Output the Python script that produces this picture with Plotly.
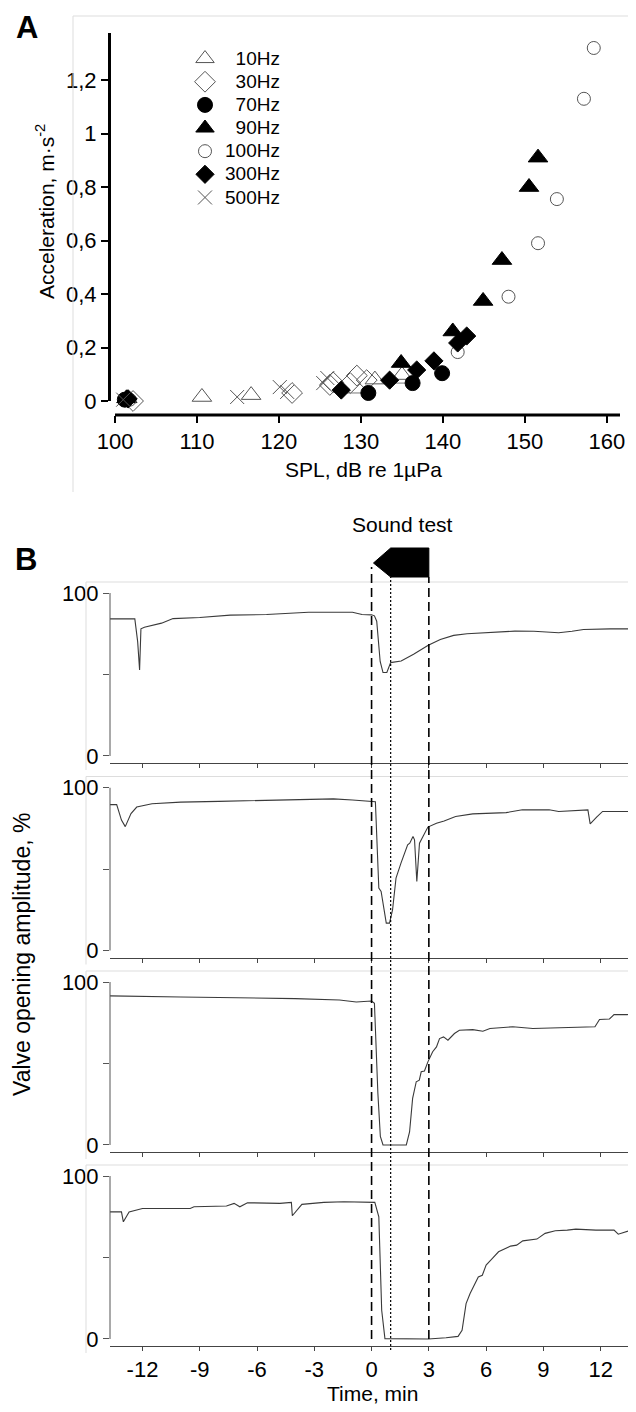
import plotly.graph_objects as go

W, H = 636, 1412
FONT = "Liberation Sans, Arial, sans-serif"
PAGE_OFFSET = 8  # default body margin of the html page

# ---------------- Panel A data ----------------
hz10_x = [101.5, 110.6, 116.6, 131.7, 135.0]
hz10_y = [0.010, 0.015, 0.022, 0.080, 0.097]
hz30_x = [102.2, 121.6, 126.2, 126.6, 128.7, 129.5, 130.7]
hz30_y = [0.000, 0.030, 0.060, 0.070, 0.067, 0.095, 0.078]
hz70_x = [101.2, 130.9, 136.3, 139.9]
hz70_y = [0.005, 0.030, 0.067, 0.104]
hz70_err = [0.0, 2.6, 3.8, 0.0]
hz90_x = [101.4, 134.9, 141.2, 144.9, 147.2, 150.5, 151.6]
hz90_y = [0.010, 0.142, 0.260, 0.374, 0.527, 0.800, 0.910]
hz100_x = [101.8, 141.8, 148.0, 151.6, 153.9, 157.2, 158.4]
hz100_y = [0.005, 0.183, 0.390, 0.590, 0.755, 1.130, 1.320]
hz300_x = [101.6, 127.6, 133.5, 136.8, 138.9, 141.8, 142.9]
hz300_y = [0.008, 0.041, 0.078, 0.116, 0.150, 0.217, 0.243]
hz500_x = [101.0, 114.9, 120.1, 121.0, 125.4, 125.9]
hz500_y = [0.005, 0.015, 0.052, 0.034, 0.067, 0.086]

a_xticks = [100, 110, 120, 130, 140, 150, 160]
a_yticks = [0, 0.2, 0.4, 0.6, 0.8, 1.0, 1.2]
a_yticktext = ["0", "0,2", "0,4", "0,6", "0,8", "1", "1,2"]

# ---------------- Panel B data ----------------
t1 = [-13.7, -12.4, -12.25, -12.15, -12.08, -11.9, -11.0, -10.4, -9.0, -7.4, -5.5, -3.3, -1.0, -0.5, 0.0,
      0.15, 0.27, 0.45, 0.6, 0.8, 1.0, 1.55, 2.2, 2.97, 3.6, 4.3, 5.0, 6.0, 7.5, 8.5, 9.8, 10.5, 11.1, 12.5, 13.85]
v1 = [84.1, 84.1, 70.0, 52.8, 78.0, 79.0, 81.5, 84.3, 85.0, 86.4, 86.8, 88.2, 88.2, 86.8, 86.6,
      86.0, 82.7, 58.0, 51.2, 51.2, 57.3, 58.3, 62.4, 67.9, 71.5, 74.0, 75.0, 75.6, 76.6, 76.5, 75.6, 76.5, 77.6, 78.0, 78.0]

t2 = [-13.7, -13.35, -13.1, -12.9, -12.6, -12.3, -11.5, -10.0, -8.0, -6.0, -4.0, -2.0, -1.0, 0.0, 0.2, 0.38, 0.5,
      0.77, 0.94, 1.1, 1.28, 1.54, 1.89, 2.0, 2.17, 2.25, 2.37, 2.51, 2.77, 2.95, 3.4, 3.8, 4.4, 5.3, 7.05, 7.9,
      9.3, 9.8, 11.33, 11.45, 11.8, 12.1, 13.7, 13.85]
v2 = [89.5, 89.5, 80.0, 76.0, 84.0, 88.0, 90.0, 91.0, 91.5, 92.0, 92.5, 93.0, 92.3, 91.7, 91.3, 38.3, 36.2,
      16.8, 16.8, 25.0, 44.4, 53.6, 64.8, 65.8, 69.9, 67.9, 42.3, 65.8, 72.0, 75.7, 78.1, 79.5, 82.2, 83.8, 84.6, 86.3,
      86.3, 85.3, 86.3, 77.7, 82.0, 85.3, 85.3, 79.2]

t3 = [-13.7, -12.0, -10.0, -8.0, -6.0, -4.0, -1.68, -0.8, 0.0, 0.15, 0.33, 0.46, 0.6, 1.82, 1.99, 2.15, 2.34,
      2.5, 2.6, 2.77, 2.95, 3.2, 3.4, 3.56, 3.77, 4.0, 4.34, 4.6, 5.3, 5.83, 6.2, 7.4, 8.45, 10.5, 11.7, 11.94,
      12.46, 12.7, 13.4, 13.85]
v3 = [91.5, 91.0, 90.8, 90.5, 90.3, 89.8, 89.0, 87.7, 88.3, 87.0, 31.7, 5.2, 0.0, 0.0, 8.0, 28.6, 38.8,
      39.8, 44.9, 45.4, 51.0, 57.2, 60.2, 65.3, 66.3, 64.3, 68.4, 70.4, 70.8, 69.8, 71.5, 72.5, 71.5, 72.0, 72.5, 77.0,
      77.3, 80.0, 80.0, 81.6]

t4 = [-13.7, -13.1, -13.0, -12.7, -12.0, -9.5, -9.3, -7.6, -7.2, -6.9, -6.5, -5.0, -4.8, -4.2, -4.15, -3.65,
      -2.5, -1.45, 0.17, 0.38, 0.53, 0.7, 1.75, 2.97, 3.9, 4.53, 4.74, 4.95, 5.16, 5.37, 5.59, 5.8, 6.0, 6.33,
      6.65, 7.28, 7.6, 7.92, 8.66, 9.09, 9.62, 10.25, 10.7, 11.75, 12.7, 12.92, 13.35, 13.85]
v4 = [78.0, 78.0, 71.9, 78.0, 80.1, 80.1, 81.1, 81.6, 83.2, 81.1, 83.6, 83.6, 83.2, 83.8, 75.6, 82.6,
      83.8, 84.2, 83.8, 75.0, 17.6, 0.2, 0.0, 0.0, 0.8, 1.6, 5.3, 21.7, 27.9, 33.0, 38.1, 39.1, 45.3, 49.4,
      53.5, 57.0, 57.6, 60.2, 61.3, 64.8, 66.4, 66.8, 67.4, 66.8, 66.8, 64.3, 65.8, 67.8]

b_xticks = [-12, -9, -6, -3, 0, 3, 6, 9, 12]
b_xticktext = ["-12", "-9", "-6", "-3", "0", "3", "6", "9", "12"]
sound_start, sound_tone, sound_end = 0, 1, 3


def xp(px):
    return (px - PAGE_OFFSET) / W


def yp(py):
    return 1 - (py - PAGE_OFFSET) / H


fig = go.Figure()

# ---------------- Panel A traces ----------------
GRAY = "#555555"
FS = "\u2007"  # figure space to right-align the legend labels
specs = [
    (FS + "10Hz", hz10_x, hz10_y, "triangle-up-open", 17, GRAY),
    (FS + "30Hz", hz30_x, hz30_y, "diamond-open", 16, GRAY),
    (FS + "70Hz", hz70_x, hz70_y, "circle", 15, "black"),
    (FS + "90Hz", hz90_x, hz90_y, "triangle-up", 17, "black"),
    ("100Hz", hz100_x, hz100_y, "circle-open", 13, GRAY),
    ("300Hz", hz300_x, hz300_y, "diamond", 14, "black"),
    ("500Hz", hz500_x, hz500_y, "x-thin-open", 14, GRAY),
]
for name, xs, ys, sym, sz, col in specs:
    kw = {}
    if name.endswith("70Hz"):
        kw["error_x"] = dict(type="data", symmetric=False, array=[0] * len(xs), arrayminus=hz70_err,
                             color="#777777", thickness=1, width=0)
    fig.add_trace(go.Scatter(
        x=xs, y=ys, mode="markers", name=f'<span style="font-size:19px">{name}</span>', cliponaxis=False,
        marker=dict(symbol=sym, size=sz, color=col, line=dict(color=col, width=1)),
        xaxis="x", yaxis="y", **kw))

# ---------------- Panel B traces ----------------
tops = [582, 776.5, 971, 1165]
series = [(t1, v1), (t2, v2), (t3, v3), (t4, v4)]
for i, (tt, vv) in enumerate(series):
    n = i + 2
    fig.add_trace(go.Scatter(x=tt, y=vv, mode="lines", showlegend=False,
                             line=dict(color="#3a3a3a", width=1.1),
                             xaxis=f"x{n}", yaxis=f"y{n}"))

layout = dict(
    width=W, height=H, margin=dict(l=0, r=0, t=0, b=0, pad=0, autoexpand=False),
    paper_bgcolor="white", plot_bgcolor="white",
    font=dict(family=FONT, color="black"),
    showlegend=True,
    legend=dict(x=xp(185), y=yp(42), xanchor="left", yanchor="top",
                font=dict(size=15.5, family=FONT), bgcolor="rgba(0,0,0,0)",
                tracegroupgap=0, itemsizing="trace"),
    xaxis=dict(domain=[xp(111), xp(620)], range=[99.51, 161.6], anchor="free", position=yp(415),
               showline=False, showgrid=False, zeroline=False,
               ticks="outside", ticklen=7, tickwidth=2, tickcolor="black",
               tickvals=a_xticks, tickfont=dict(size=22, family=FONT)),
    yaxis=dict(domain=[yp(401), yp(33)], range=[0, 1.376], anchor="x",
               showline=True, linewidth=3, linecolor="black", showgrid=False, zeroline=False,
               ticks="outside", ticklen=7, tickwidth=2, tickcolor="black",
               tickvals=a_yticks, ticktext=a_yticktext, tickfont=dict(size=22, family=FONT)),
)

shapes = []
# Panel A frame and x-axis line
shapes.append(dict(type="line", xref="paper", yref="paper", x0=xp(73), x1=1.0, y0=yp(16), y1=yp(16),
                   line=dict(color="#dddddd", width=1)))
shapes.append(dict(type="line", xref="paper", yref="paper", x0=xp(73), x1=xp(73), y0=yp(16), y1=yp(492),
                   line=dict(color="#dddddd", width=1)))
shapes.append(dict(type="line", xref="x", yref="paper", x0=a_xticks[0], x1=161.6, y0=yp(415), y1=yp(415),
                   line=dict(color="black", width=3)))

for i, top in enumerate(tops):
    n = i + 2
    axis_line = top + 181
    layout[f"xaxis{n}"] = dict(
        domain=[xp(110), xp(636)], range=[-13.7, 13.85], anchor=f"y{n}",
        showline=True, linecolor="#444444", linewidth=1, showgrid=False, zeroline=False,
        ticks="outside", ticklen=4, tickcolor="#444444",
        tickvals=b_xticks, ticktext=b_xticktext, showticklabels=(i == 3),
        tickfont=dict(size=22, family=FONT),
        matches="x2" if n != 2 else None)
    layout[f"yaxis{n}"] = dict(
        domain=[yp(axis_line), yp(top + 11)], range=[-4.3, 100], anchor=f"x{n}",
        showline=False, showgrid=False, zeroline=False,
        ticks="outside", ticklen=6, tickcolor="#555555",
        tickvals=[0, 100], ticktext=["0", "100"],
        minor=dict(tickvals=[50], ticks="outside", ticklen=6, tickcolor="#555555", showgrid=False),
        tickfont=dict(size=22, family=FONT))
    shapes.append(dict(type="line", xref="paper", yref="paper", x0=xp(86), x1=1.0, y0=yp(top), y1=yp(top),
                       line=dict(color="#dddddd", width=1)))
    shapes.append(dict(type="line", xref="paper", yref="paper", x0=xp(86), x1=xp(86), y0=yp(top),
                       y1=yp(top + 188), line=dict(color="#dddddd", width=1)))
    shapes.append(dict(type="line", xref=f"x{n} domain", yref=f"y{n}", x0=0, x1=0, y0=0, y1=100,
                       line=dict(color="#555555", width=1)))

# sound test markers
bot = yp(1339)
shapes.append(dict(type="line", xref="x2", yref="paper", x0=sound_start, x1=sound_start, y0=bot, y1=yp(567),
                   line=dict(color="black", width=1.6, dash="9px,5px")))
shapes.append(dict(type="line", xref="x2", yref="paper", x0=sound_end, x1=sound_end, y0=bot, y1=yp(577),
                   line=dict(color="black", width=1.6, dash="9px,5px")))
shapes.append(dict(type="line", xref="x2", yref="paper", x0=sound_tone, x1=sound_tone, y0=yp(1350), y1=yp(577),
                   line=dict(color="black", width=1.2, dash="2px,2px")))
ytop, ymid, ybot = yp(548), yp(563), yp(577)
path = (f"M {sound_start + 0.1},{ymid} L {sound_tone},{ytop} L {sound_end},{ytop} "
        f"L {sound_end},{ybot} L {sound_tone},{ybot} Z")
shapes.append(dict(type="path", xref="x2", yref="paper", path=path,
                   fillcolor="black", line=dict(color="black", width=1)))

layout["shapes"] = shapes

ann = [
    dict(text="<b>A</b>", x=xp(27), y=1.0, size=31, yanchor="top"),
    dict(text="<b>B</b>", x=xp(26), y=yp(559), size=31),
    dict(text="Sound test", x=xp(402), y=yp(524), size=21),
    dict(text="SPL, dB re 1µPa", x=xp(363), y=yp(470), size=21),
    dict(text="Acceleration, m·s<sup>-2</sup>", x=xp(45), y=yp(212), size=21, angle=-90),
    dict(text="Valve opening amplitude, %", x=xp(22), y=yp(955), size=23, angle=-90),
    dict(text="Time, min", x=xp(372), y=yp(1393), size=21),
]
layout["annotations"] = [
    dict(text=a["text"], x=a["x"], y=a["y"], xref="paper", yref="paper", showarrow=False,
         xanchor="center", yanchor=a.get("yanchor", "middle"), textangle=a.get("angle", 0),
         font=dict(size=a["size"], family=FONT, color="black"))
    for a in ann
]

fig.update_layout(**layout)
fig.write_html("out.html")
